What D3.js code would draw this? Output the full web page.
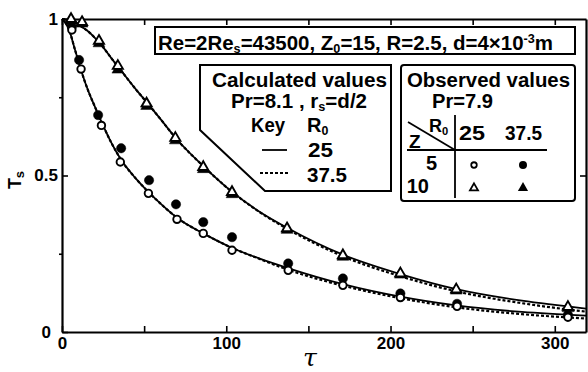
<!DOCTYPE html>
<html>
<head>
<meta charset="utf-8">
<script src="https://cdn.jsdelivr.net/npm/d3@7"></script>
<style>
  body { margin: 0; background: #fff; }
  svg text { font-family: "Liberation Sans", Arial, sans-serif; font-weight: bold; fill: #000; }
  .axis path, .axis line { stroke: #000; }
</style>
</head>
<body>
<div id="chart"></div>
<script>
var tauZ5a  = [6, 11.6, 24, 35.5, 52.6, 70, 86, 103.5, 137.7, 171, 206, 240.5, 308];
var tsZ5R25 = [0.965, 0.84, 0.66, 0.543, 0.443, 0.36, 0.315, 0.261, 0.197, 0.149, 0.11, 0.082, 0.047];
var tauZ5b  = [6, 10.4, 22, 36, 53, 69.4, 86, 103.5, 137.7, 171, 206, 240.5, 308];
var tsZ5R37 = [0.975, 0.869, 0.693, 0.587, 0.485, 0.408, 0.351, 0.303, 0.219, 0.171, 0.123, 0.09, 0.055];
var tauZ10   = [5.5, 12.2, 22.5, 34, 51.5, 69, 86, 103.5, 137, 171, 206, 240, 308];
var tsZ10R25 = [1.0, 0.99, 0.93, 0.85, 0.73, 0.62, 0.527, 0.447, 0.331, 0.245, 0.187, 0.136, 0.08];
var tsZ10R37 = [0.995, 0.985, 0.922, 0.838, 0.722, 0.612, 0.52, 0.44, 0.326, 0.24, 0.183, 0.132, 0.076];

// calculated curves
var tauCalc   = [0, 4, 8, 12, 16, 20, 25, 30, 36, 45, 53, 60, 70, 86, 103, 120, 137, 171, 206, 240, 280, 319];
var calcZ5R25 = [1.0, 0.97, 0.9, 0.83, 0.77, 0.72, 0.66, 0.605, 0.55, 0.49, 0.445, 0.41, 0.365, 0.315, 0.27, 0.235, 0.205, 0.153, 0.113, 0.085, 0.064, 0.052];
var calcZ5R37 = [1.0, 0.97, 0.9, 0.83, 0.77, 0.72, 0.66, 0.605, 0.55, 0.49, 0.445, 0.41, 0.365, 0.315, 0.27, 0.234, 0.2, 0.148, 0.108, 0.079, 0.057, 0.043];
var calcZ10R25 = [1.0, 0.997, 0.99, 0.975, 0.96, 0.94, 0.91, 0.875, 0.835, 0.775, 0.725, 0.68, 0.615, 0.53, 0.45, 0.385, 0.333, 0.247, 0.185, 0.137, 0.1, 0.075];
var calcZ10R37 = [1.0, 0.997, 0.99, 0.975, 0.96, 0.94, 0.91, 0.875, 0.835, 0.775, 0.725, 0.68, 0.615, 0.53, 0.45, 0.384, 0.33, 0.242, 0.178, 0.13, 0.092, 0.065];

var xTicks = [0, 50, 100, 150, 200, 250, 300];
var yTicks = [0, 0.5, 1];

var margin = { top: 19, right: 2, bottom: 40, left: 62 },
    width = 588 - margin.left - margin.right,
    height = 372 - margin.top - margin.bottom;

var x = d3.scaleLinear().domain([0, 319]).range([0, width]);
var y = d3.scaleLinear().domain([0, 1]).range([height, 0]);

var svg = d3.select("#chart").append("svg")
    .attr("width", 588)
    .attr("height", 372);
var g = svg.append("g")
    .attr("transform", "translate(" + margin.left + "," + margin.top + ")");

function styleAxis(sel) {
  sel.attr("class", "axis");
  sel.select(".domain").attr("stroke-width", 2.2);
  sel.selectAll(".tick line").attr("stroke-width", 1.6);
  sel.selectAll("text").attr("font-size", 17).attr("fill", "#000");
}

// bottom
g.append("g")
    .attr("transform", "translate(0," + height + ")")
    .call(d3.axisBottom(x).tickValues(xTicks).tickSize(-6).tickSizeOuter(0).tickPadding(5)
      .tickFormat(function (d) { return d % 100 === 0 ? d : ""; }))
    .call(styleAxis);
// top
g.append("g")
    .call(d3.axisTop(x).tickValues(xTicks).tickSize(-6).tickSizeOuter(0).tickFormat(""))
    .call(styleAxis);
// left
var yAx = g.append("g")
    .call(d3.axisLeft(y).tickValues(yTicks).tickSize(-6).tickSizeOuter(0).tickPadding(4)
      .tickFormat(function (d) { return d === 0.5 ? "0.5" : d; }))
    .call(styleAxis);
yAx.selectAll(".tick text").filter(function (d) { return d === 0; }).attr("x", -11);
g.append("g")
    .call(d3.axisLeft(y).tickValues([0.25, 0.75]).tickSize(3).tickFormat(""))
    .call(styleAxis)
    .select(".domain").remove();
// right
g.append("g")
    .attr("transform", "translate(" + width + ",0)")
    .call(d3.axisRight(y).tickValues([0.5]).tickSize(-6).tickSizeOuter(0).tickFormat(""))
    .call(styleAxis);

// axis titles
var yt = svg.append("text")
    .attr("transform", "translate(21,180) rotate(-90)")
    .attr("text-anchor", "middle")
    .attr("font-size", 18);
yt.append("tspan").text("T");
yt.append("tspan").attr("font-size", 13).attr("baseline-shift", "-25%").text("s");

svg.append("text")
    .attr("x", margin.left + x(151))
    .attr("y", 366)
    .attr("text-anchor", "middle")
    .attr("font-size", 25)
    .attr("font-style", "italic")
    .style("font-family", "'DejaVu Serif', serif")
    .style("font-weight", "normal")
    .text("\u03c4");

// curves
var line = d3.line()
    .x(function (d) { return x(d[0]); })
    .y(function (d) { return y(d[1]); })
    .curve(d3.curveMonotoneX);

function curve(vals, dashed) {
  g.append("path")
      .datum(tauCalc.map(function (t, i) { return [t, vals[i]]; }))
      .attr("fill", "none")
      .attr("stroke", "#000")
      .attr("stroke-width", dashed ? 2.2 : 1.8)
      .attr("stroke-dasharray", dashed ? "3,2" : null)
      .attr("d", line);
}
curve(calcZ5R37, true);
curve(calcZ10R37, true);
curve(calcZ5R25, false);
curve(calcZ10R25, false);

// observed markers
var tri = d3.symbol().type(d3.symbolTriangle);

function markers(taus, vals, shape, filled) {
  var pts = taus.map(function (t, i) { return [t, vals[i]]; });
  var sel = g.append("g").selectAll("path").data(pts).enter().append("path")
      .attr("transform", function (d) { return "translate(" + x(d[0]) + "," + y(d[1]) + ")"; })
      .attr("stroke", "#000")
      .attr("fill", filled ? "#000" : "#fff");
  if (shape === "circle") {
    sel.attr("d", d3.symbol().type(d3.symbolCircle).size(filled ? 68 : 44)())
       .attr("stroke-width", filled ? 0.5 : 1.9);
  } else {
    sel.attr("d", tri.size(filled ? 60 : 44)())
       .attr("stroke-width", filled ? 0.5 : 1.9);
  }
}
markers(tauZ5b, tsZ5R37, "circle", true);
markers(tauZ10, tsZ10R37, "tri", true);
markers(tauZ5a, tsZ5R25, "circle", false);
markers(tauZ10, tsZ10R25, "tri", false);

// text helper with sub/superscripts
function rich(x0, y0, parts, size, len, anchor) {
  var t = svg.append("text").attr("x", x0).attr("y", y0).attr("font-size", size)
      .attr("text-anchor", anchor || "start");
  parts.forEach(function (p) {
    var s = t.append("tspan").text(p[0]);
    if (p[1] === "sub") s.attr("font-size", size * 0.62).attr("baseline-shift", "-25%");
    if (p[1] === "sup") s.attr("font-size", size * 0.62).attr("baseline-shift", "55%");
  });
  if (len) t.attr("textLength", len).attr("lengthAdjust", "spacingAndGlyphs");
  return t;
}

// header box
svg.append("rect").attr("x", 155).attr("y", 27).attr("width", 420).attr("height", 27)
    .attr("fill", "#fff").attr("stroke", "#000").attr("stroke-width", 2);
rich(158, 50, [["Re=2Re"], ["s", "sub"], ["=43500, Z"], ["0", "sub"], ["=15, R=2.5, d=4\u00d710"], ["-3", "sup"], ["m"]], 20, 395);

// calculated values box
svg.append("path")
    .attr("d", "M200,65 H391 V191 H265 L200,130 Z")
    .attr("fill", "#fff").attr("stroke", "#000").attr("stroke-width", 2);
rich(212, 87, [["Calculated values"]], 20, 175);
rich(231, 108, [["Pr=8.1 , r"], ["s", "sub"], ["=d/2"]], 20, 136);
rich(251, 132, [["Key"]], 20, 34);
rich(307, 132, [["R"], ["0", "sub"]], 20);
rich(308, 157, [["25"]], 20, 25);
rich(307, 182, [["37.5"]], 20, 40);
svg.append("line").attr("x1", 262).attr("x2", 287).attr("y1", 150).attr("y2", 150)
    .attr("stroke", "#000").attr("stroke-width", 1.8);
svg.append("line").attr("x1", 260).attr("x2", 288).attr("y1", 173).attr("y2", 173)
    .attr("stroke", "#000").attr("stroke-width", 1.8).attr("stroke-dasharray", "3,2");

// observed values box
svg.append("rect").attr("x", 401).attr("y", 65).attr("width", 174).attr("height", 136).attr("rx", 3)
    .attr("fill", "#fff").attr("stroke", "#000").attr("stroke-width", 2);
rich(407, 87, [["Observed values"]], 20, 163);
rich(432, 108, [["Pr=7.9"]], 20, 61);
rich(429, 132, [["R"], ["0", "sub"]], 18);
rich(409, 148, [["Z"]], 19);
rich(459, 140, [["25"]], 20, 26);
rich(505, 140, [["37.5"]], 20, 37);
rich(437, 170, [["5"]], 20, null, "end");
rich(429, 193, [["10"]], 20, null, "end");
svg.append("line").attr("x1", 408).attr("y1", 122).attr("x2", 455).attr("y2", 150)
    .attr("stroke", "#000").attr("stroke-width", 1.8);
svg.append("line").attr("x1", 455).attr("y1", 115).attr("x2", 455).attr("y2", 198)
    .attr("stroke", "#000").attr("stroke-width", 1.8);
svg.append("line").attr("x1", 407).attr("y1", 150).attr("x2", 547).attr("y2", 150)
    .attr("stroke", "#000").attr("stroke-width", 1.8);
svg.append("path").attr("transform", "translate(474,165)")
    .attr("d", d3.symbol().type(d3.symbolCircle).size(24)()).attr("fill", "#fff").attr("stroke", "#000").attr("stroke-width", 1.8);
svg.append("path").attr("transform", "translate(523,165)")
    .attr("d", d3.symbol().type(d3.symbolCircle).size(50)()).attr("fill", "#000");
svg.append("path").attr("transform", "translate(474,188)")
    .attr("d", d3.symbol().type(d3.symbolTriangle).size(28)()).attr("fill", "#fff").attr("stroke", "#000").attr("stroke-width", 1.8);
svg.append("path").attr("transform", "translate(523,188)")
    .attr("d", d3.symbol().type(d3.symbolTriangle).size(45)()).attr("fill", "#000");
</script>
</body>
</html>
